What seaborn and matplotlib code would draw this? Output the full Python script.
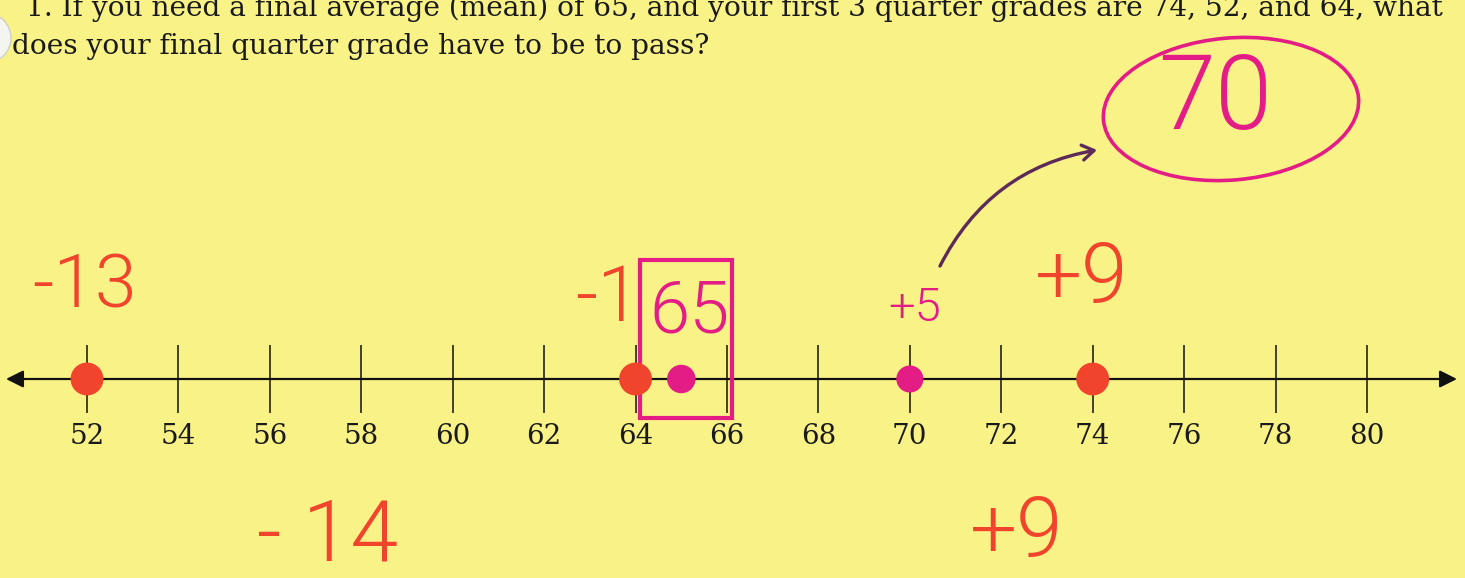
import matplotlib
matplotlib.use("Agg")
import matplotlib.pyplot as plt
import seaborn as sns
import pandas as pd
from matplotlib.patches import Ellipse, Rectangle

# ---------------- data ----------------
tick_values = [52, 54, 56, 58, 60, 62, 64, 66, 68, 70, 72, 74, 76, 78, 80]
grade_values = [52, 64, 74]          # first three quarter grades
mean_value = 65                      # required mean
answer_value = 70                    # required final grade
grade_devs = ["-13", "-1", "+9"]     # deviations from the mean
answer_dev = "+5"
sum_neg = "- 14"
sum_pos = "+9"
question_line1 = ("1. If you need a final average (mean) of 65, and your first 3 quarter "
                  "grades are 74, 52, and 64, what")
question_line2 = "does your final quarter grade have to be to pass?"

# ---------------- style ----------------
W, H, DPI = 1465, 578, 100
BG = "#f9f286"
RED = "#f0452c"
MAG = "#e41c86"
PUR = "#5c2b58"

sns.set_theme(style="white")
plt.rcParams["font.family"] = ["DejaVu Serif"]

fig = plt.figure(figsize=(W / DPI, H / DPI), dpi=DPI)
fig.patch.set_facecolor(BG)
ax = fig.add_axes([0, 0, 1, 1])
ax.set_facecolor(BG)

# pixel layout of the number line
PX52, PX80 = 87.0, 1367.0
UNIT = (PX80 - PX52) / (80 - 52)


def px2x(px):
    return 52 + (px - PX52) / UNIT


ax.set_xlim(px2x(0), px2x(W))
ax.set_ylim(H, 0)
ax.axis("off")

LINE_Y = 379
HAND = dict(family=["Roboto", "DejaVu Sans"], fontweight=300)

# number line with arrows
ax.annotate("", xy=(px2x(1457), LINE_Y), xytext=(px2x(6), LINE_Y),
            arrowprops=dict(arrowstyle="<|-|>", color="#111111", lw=1.6,
                            mutation_scale=26, shrinkA=0, shrinkB=0))
ax.vlines(tick_values, 345, 413, color="#111111", lw=1.1)
for t in tick_values:
    ax.text(t, 437, str(t), ha="center", va="center", fontsize=20,
            color="#1a1a1a", family="DejaVu Serif")

# question text
ax.text(px2x(26), 8, question_line1, ha="left", va="center", fontsize=20.2,
        color="#1a1a1a", family="DejaVu Serif")
ax.text(px2x(12), 46, question_line2, ha="left", va="center", fontsize=20.2,
        color="#1a1a1a", family="DejaVu Serif")

# hole punch at left edge
ax.add_patch(Ellipse((px2x(-14), 38), 50 / UNIT, 50, facecolor="#f4f4f0",
                     edgecolor="#cfcfc8", lw=1.0, zorder=5))

# points
pts = pd.DataFrame({
    "grade": grade_values + [mean_value, answer_value],
    "y": [LINE_Y] * 5,
    "kind": ["quarter"] * 3 + ["mean", "answer"],
})
sns.scatterplot(data=pts, x="grade", y="y", hue="kind",
                palette={"quarter": RED, "mean": MAG, "answer": MAG},
                size="kind", sizes={"quarter": 560, "mean": 420, "answer": 380},
                edgecolor="none", legend=False, ax=ax, zorder=4)

# deviation labels
dev_pos = [(85, 287, 54), (608, 300, 56), (1082, 280, 60)]
for (px, py, fs), lab in zip(dev_pos, grade_devs):
    ax.text(px2x(px), py, lab, ha="center", va="center", fontsize=fs,
            color=RED, **HAND)
ax.text(px2x(915), 308, answer_dev, ha="center", va="center", fontsize=34,
        color=MAG, **HAND)

# boxed mean
ax.text(px2x(690), 313, str(mean_value), ha="center", va="center",
        fontsize=52, color=MAG, **HAND)
ax.add_patch(Rectangle((px2x(640), 260), 92 / UNIT, 158, fill=False,
                       edgecolor=MAG, lw=3.0, zorder=3))

# circled answer
ax.text(px2x(1215), 100, str(answer_value), ha="center", va="center",
        fontsize=74, color=MAG, **HAND)
ell = Ellipse((1231, H - 109), 256, 142, angle=5, fill=False, edgecolor=MAG,
              lw=2.6, transform=None)
ax.add_artist(ell)

# arrow to answer
ax.annotate("", xy=(px2x(1097), 150), xytext=(px2x(940), 266),
            arrowprops=dict(arrowstyle="->,head_length=0.7,head_width=0.45",
                            color=PUR, lw=2.4,
                            connectionstyle="arc3,rad=-0.25",
                            shrinkA=0, shrinkB=0))

# sums
ax.text(px2x(328), 537, sum_neg, ha="center", va="center", fontsize=62,
        color=RED, **HAND)
ax.text(px2x(1017), 534, sum_pos, ha="center", va="center", fontsize=60,
        color=RED, **HAND)

fig.savefig("out.png", dpi=DPI, facecolor=BG)
